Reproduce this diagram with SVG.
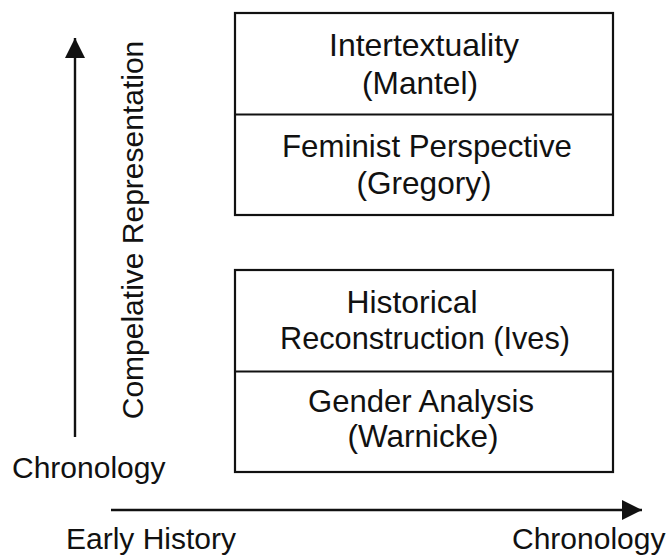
<svg xmlns="http://www.w3.org/2000/svg" width="670" height="558" viewBox="0 0 670 558">
<style>
text{font-family:"Liberation Sans",Arial,sans-serif;font-size:30px;fill:#111}
.c{text-anchor:middle}
.b{font-size:30.5px}
.box{fill:#fff;stroke:#111;stroke-width:2.2}
.ax{stroke:#111;stroke-width:2.4;fill:none}
</style>
<defs>
<marker id="ah" viewBox="0 0 20 20" refX="20" refY="10" markerWidth="20" markerHeight="20" markerUnits="userSpaceOnUse" orient="auto">
<path d="M0,0 L20,10 L0,20 Z" fill="#111"/>
</marker>
</defs>
<rect width="670" height="558" fill="#fff"/>
<g id="connectors">
<line class="ax" x1="75" y1="437" x2="75" y2="38" marker-end="url(#ah)"/>
<line class="ax" x1="111" y1="510" x2="642" y2="510" marker-end="url(#ah)"/>
</g>
<g id="top-box">
<rect class="box" x="235" y="13" width="378" height="202"/>
<line class="ax" x1="235" y1="114.5" x2="613" y2="114.5" style="stroke-width:2.2"/>
</g>
<g id="intertextuality">
<text class="c b" x="424" y="56" textLength="190" lengthAdjust="spacingAndGlyphs">Intertextuality</text>
<text class="c b" x="420" y="94" textLength="116" lengthAdjust="spacingAndGlyphs">(Mantel)</text>
</g>
<g id="feminist">
<text class="c b" x="427" y="157" textLength="290" lengthAdjust="spacingAndGlyphs">Feminist Perspective</text>
<text class="c b" x="424" y="194" textLength="135" lengthAdjust="spacingAndGlyphs">(Gregory)</text>
</g>
<g id="bottom-box">
<rect class="box" x="235" y="270" width="378" height="202"/>
<line class="ax" x1="235" y1="371.5" x2="613" y2="371.5" style="stroke-width:2.2"/>
</g>
<g id="historical">
<text class="c b" x="412" y="313" textLength="131" lengthAdjust="spacingAndGlyphs">Historical</text>
<text class="c b" x="425" y="349" textLength="290" lengthAdjust="spacingAndGlyphs">Reconstruction (Ives)</text>
</g>
<g id="gender">
<text class="c b" x="421" y="412" textLength="226" lengthAdjust="spacingAndGlyphs">Gender Analysis</text>
<text class="c b" x="423" y="447" textLength="151" lengthAdjust="spacingAndGlyphs">(Warnicke)</text>
</g>
<g id="labels">
<text class="c" transform="translate(143,230) rotate(-90)">Compelative Representation</text>
<text x="12" y="478">Chronology</text>
<text x="66" y="549">Early History</text>
<text x="512" y="549">Chronology</text>
</g>
</svg>
